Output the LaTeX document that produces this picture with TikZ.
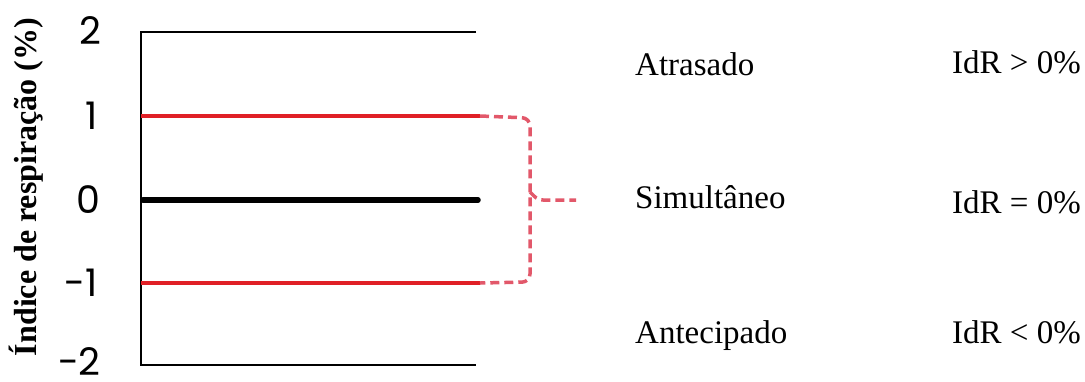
\documentclass[tikz,border=0pt]{standalone}
\usepackage{fontspec}
\setmainfont{Liberation Serif}
\newfontfamily\tickfont{Poppins}
\definecolor{linered}{HTML}{E01F26}
\definecolor{bracered}{HTML}{E2586A}
\begin{document}
\begin{tikzpicture}[x=1pt,y=-1pt,
  frame/.style={line width=1.4pt,black},
  redline/.style={line width=4.5pt,linered},
  zeroline/.style={line width=5.5pt,black,line cap=round},
  bracepath/.style={line width=3.5pt,bracered,dash pattern=on 9pt off 5pt,rounded corners=8pt},
  tick/.style={font=\tickfont\fontsize{38}{38}\selectfont,anchor=east,inner sep=0pt},
  lbl/.style={font=\fontsize{33}{33}\selectfont,anchor=base west,inner sep=0pt},
  ylbl/.style={font=\bfseries\fontsize{32}{32}\selectfont,rotate=90,inner sep=0pt}]
\useasboundingbox (0,0) rectangle (1085,381);
% frame
\coordinate (tl) at (141,32);
\coordinate (tr) at (476,32);
\coordinate (bl) at (141,365);
\coordinate (br) at (476,365);
\draw[frame] (tr) -- (tl) -- (bl) -- (br);
% lines
\coordinate (r1a) at (141,116);
\coordinate (r1b) at (480,116);
\coordinate (r2a) at (141,283);
\coordinate (r2b) at (480,283);
\coordinate (z0a) at (143,200);
\coordinate (z0b) at (478,200);
\draw[redline] (r1a) -- (r1b);
\draw[redline] (r2a) -- (r2b);
\draw[zeroline] (z0a) -- (z0b);
% brace
\coordinate (bt) at (576,200);
\draw[bracepath] (r1b) -- (530,118) -- (530,200) -- (530,282) -- (r2b);
\draw[bracepath,rounded corners=5pt] (530,192) -- (538,200) -- (bt);
% ticks
\node[tick] (t2) at (102,31) {2};
\node[tick] (t1) at (98,116) {1};
\node[tick] (t0) at (101,200) {0};
\node[tick] (tm1) at (98,283) {-1};
\node[tick,anchor=base east,text depth=0pt] (tm2) at (101,375) {-2};
% y label
\node[ylbl] (yl) at (26,187) {Índice de respiração (\%)};
% right texts
\node[lbl] (a1) at (635,75) {Atrasado};
\node[lbl] (a2) at (635,208) {Simultâneo};
\node[lbl] (a3) at (635,343) {Antecipado};
\node[lbl] (b1) at (952,73) {IdR \textgreater{} 0\%};
\node[lbl] (b2) at (952,213) {IdR = 0\%};
\node[lbl] (b3) at (952,343) {IdR \textless{} 0\%};
\end{tikzpicture}
\end{document}
